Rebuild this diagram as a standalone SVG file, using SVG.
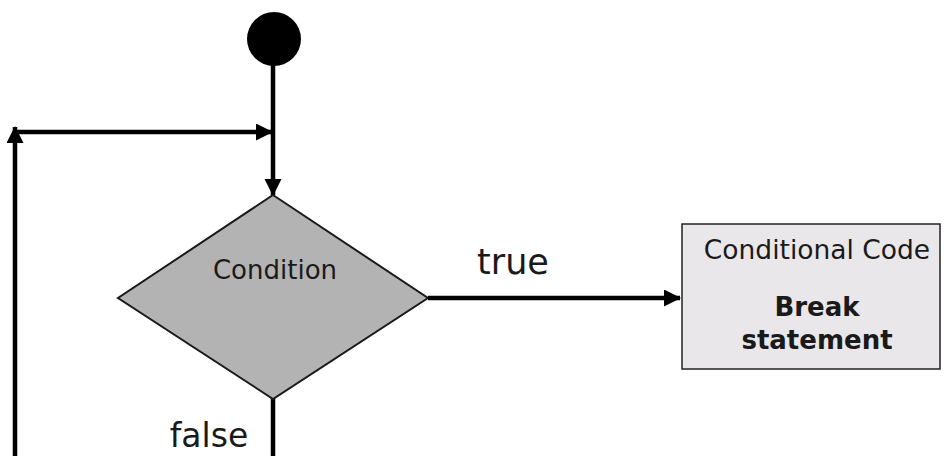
<svg xmlns="http://www.w3.org/2000/svg" width="944" height="456" viewBox="0 0 944 456">
<style>
  .ln { stroke:#000; stroke-width:4.5; fill:none; }
  .lbl { font-family:"DejaVu Sans",Verdana,sans-serif; fill:#1a1a1a; text-anchor:middle; }
</style>
<defs>
  <marker id="ah" markerUnits="userSpaceOnUse" markerWidth="18" markerHeight="18" refX="16" refY="8.5" orient="auto">
    <path d="M0,0 L17,8.5 L0,17 Z" fill="#000"/>
  </marker>
</defs>
<rect width="944" height="456" fill="#fff"/>
<g id="connectors">
  <line class="ln" x1="273" y1="60" x2="273" y2="195" marker-end="url(#ah)"/>
  <line class="ln" x1="13" y1="132" x2="272" y2="132" marker-end="url(#ah)"/>
  <line class="ln" x1="15" y1="456" x2="15" y2="127" marker-end="url(#ah)"/>
  <line class="ln" x1="428" y1="298" x2="680" y2="298" marker-end="url(#ah)"/>
  <line class="ln" x1="273" y1="398" x2="273" y2="456"/>
  <text class="lbl" x="513" y="274" font-size="35">true</text>
  <text class="lbl" x="209" y="447" font-size="33">false</text>
</g>
<g id="start">
  <circle cx="274" cy="39" r="27" fill="#000"/>
</g>
<g id="condition">
  <polygon points="273,195 428,298 273,399 118,298" fill="#b3b3b3" stroke="#1a1a1a" stroke-width="2"/>
  <text class="lbl" x="275" y="279" font-size="26">Condition</text>
</g>
<g id="code">
  <rect x="682" y="224" width="258" height="145" fill="#e9e7e9" stroke="#222" stroke-width="1.5"/>
  <text class="lbl" x="817" y="259" font-size="26.5">Conditional Code</text>
  <text class="lbl" x="817" y="316" font-size="26" font-weight="bold">Break</text>
  <text class="lbl" x="817" y="349" font-size="26" font-weight="bold">statement</text>
</g>
</svg>
